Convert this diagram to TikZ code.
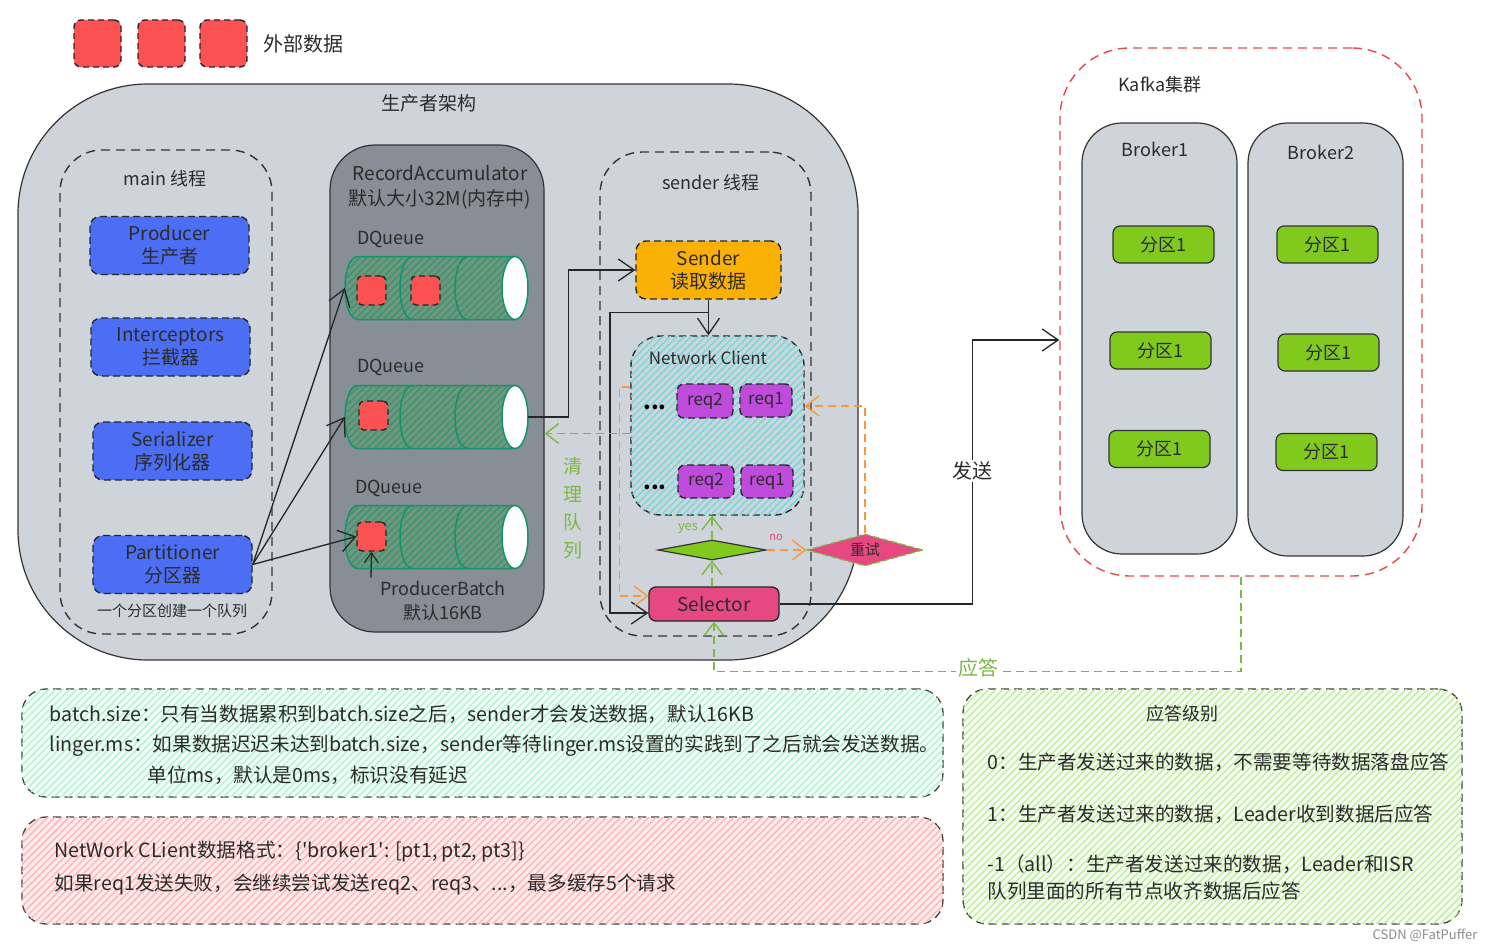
\documentclass[tikz,border=0pt]{standalone}
\usepackage{fontspec}
\setmainfont{Noto Sans CJK SC}[Ligatures=TeXOff]
\usetikzlibrary{arrows.meta,shapes.geometric,patterns.meta}

\definecolor{datared}{HTML}{FA5252}
\definecolor{compblue}{HTML}{4C6EF5}
\definecolor{outergray}{HTML}{CED4DA}
\definecolor{accgray}{HTML}{878E96}
\definecolor{cylfill}{HTML}{6F977E}
\definecolor{cylline}{HTML}{12936A}
\definecolor{sendorange}{HTML}{FAB005}
\definecolor{reqpurple}{HTML}{BE4BDB}
\definecolor{selpink}{HTML}{E64980}
\definecolor{partgreen}{HTML}{82C91E}
\definecolor{linkgreen}{HTML}{7DB843}
\definecolor{linkorange}{HTML}{F7993A}
\definecolor{kafkared}{HTML}{E5484D}
\definecolor{txt}{HTML}{2B2B2B}

\newcommand{\fsz}[2]{\fontsize{#1}{#2}\selectfont}

\begin{document}
\begin{tikzpicture}[x=1pt,y=-1pt,
  every node/.style={font=\fsz{18}{22}, text=txt},
  sq/.style={draw=black!85, dash pattern=on 6pt off 4pt, line width=1.4pt, fill=datared, rounded corners=7pt, minimum size=47pt, inner sep=0},
  batch/.style={sq, minimum size=29pt, rounded corners=5pt},
  frame/.style={draw=black!80, line width=1.2pt, rounded corners=#1, inner sep=0},
  thread/.style={draw=black!80, dash pattern=on 9pt off 6pt, line width=1.4pt, rounded corners=42pt, inner sep=0},
  comp/.style={draw=black!85, dash pattern=on 7pt off 4pt, line width=1.4pt, rounded corners=10pt, align=center, inner sep=0, font=\fsz{19}{23}},
  req/.style={comp, fill=reqpurple, rounded corners=7pt, font=\fsz{17}{20}},
  part/.style={draw=black!80, line width=1.2pt, fill=partgreen, rounded corners=7pt, minimum width=101pt, minimum height=37pt, inner sep=0},
  stripes/.style={postaction={pattern={Lines[angle=45,distance=5pt,line width=1.3pt]}, pattern color=#1}},
  note/.style={draw=black!75, dash pattern=on 8pt off 5pt, line width=1.3pt, rounded corners=24pt, inner sep=0},
  notetxt/.style={anchor=west, font=\fsz{19.6}{24}},
  arr/.style={draw=black!85, line width=1.3pt, -{Straight Barb[length=16pt,width=22pt,line width=1.3pt]}},
  garr/.style={draw=linkgreen, line width=1.4pt, dash pattern=on 8pt off 5pt, -{Straight Barb[length=13pt,width=20pt,line width=1.4pt]}},
  oarr/.style={draw=linkorange, line width=1.4pt, dash pattern=on 8pt off 5pt, -{Straight Barb[length=13pt,width=20pt,line width=1.4pt]}},
]
\useasboundingbox (0,0) rectangle (1497,950);

% legend
\foreach \n/\x in {d1/97.5,d2/161.5,d3/223.5}
  \node[sq] (\n) at (\x,43.5) {};
\node[font=\fsz{20}{24}] (extlbl) at (303,44) {外部数据};

% producer
\node[frame=130pt, fill=outergray, minimum width=840pt, minimum height=576pt] (prod) at (438,372) {};
\node[font=\fsz{19}{23}] (prodlbl) at (429,103) {生产者架构};

% main thread
\node[thread, minimum width=212pt, minimum height=484pt] (mainth) at (166,392) {};
\node (mainlbl) at (165,179) {main 线程};
\foreach \n/\x/\y/\t in {producer/169.5/245.5/{Producer\\生产者},
    interceptors/170.5/347/{Interceptors\\拦截器},
    serializer/172.5/451/{Serializer\\序列化器},
    partitioner/172.5/564.5/{Partitioner\\分区器}}
  \node[comp, fill=compblue, minimum width=159pt, minimum height=58pt] (\n) at (\x,\y) {\t};
\node[font=\fsz{15}{18}] (qnote) at (172,611) {一个分区创建一个队列};

% record accumulator
\node[frame=45pt, fill=accgray, minimum width=214pt, minimum height=487pt] (accum) at (437,388.5) {};
\node[align=center, font=\fsz{19}{25}] (acclbl) at (440,187) {RecordAccumulator\\默认大小32M(内存中)};
\foreach \i/\c/\lx/\ly in {1/288/391/239,2/417/391/367,3/537/389/488}{
  \node (dqlbl\i) at (\lx,\ly) {DQueue};
  \node[inner sep=0, minimum width=183pt, minimum height=63pt] (dq\i) at (436.5,\c) {};
  \path[draw=cylline, fill=cylfill, line width=1.5pt, stripes=cylline!60!cylfill]
    (515,\c-31.5) -- (358,\c-31.5) .. controls (340.7,\c-31.5) and (340.7,\c+31.5) .. (358,\c+31.5) -- (515,\c+31.5) -- cycle;
  \foreach \s in {413,468}
    \draw[cylline, line width=1.5pt] (\s,\c-31.5) .. controls (\s-17.3,\c-31.5) and (\s-17.3,\c+31.5) .. (\s,\c+31.5);
  \draw[cylline, line width=1.5pt, fill=white] (515,\c) ellipse [x radius=13, y radius=31.5];
}
\node[batch] (b1a) at (371.5,290.5) {};
\node[batch] (b1b) at (425.5,290.5) {};
\node[batch] (b2a) at (373.5,415.5) {};
\node[batch] (b3a) at (371.5,536.5) {};
\node[align=center, font=\fsz{18}{24}] (pb) at (443,601) {ProducerBatch\\默认16KB};

% sender thread
\node[thread, minimum width=211pt, minimum height=484pt] (sendth) at (705.5,394) {};
\node (sendlbl) at (711,183) {sender 线程};
\node[comp, fill=sendorange, minimum width=145pt, minimum height=58pt] (sender) at (708.5,270) {Sender\\读取数据};
\node[draw=black!85, dash pattern=on 7pt off 4pt, line width=1.4pt, rounded corners=30pt, fill=outergray, stripes=cyan!55!teal!60,
  minimum width=173pt, minimum height=179pt, inner sep=0] (nc) at (717.5,425.5) {};
\node[font=\fsz{17}{20}] (nclbl) at (708,358) {Network Client};
\node[req, minimum width=56pt, minimum height=34pt] (r1a) at (705,401) {req2};
\node[req, minimum width=52pt, minimum height=33pt] (r1b) at (766,400.5) {req1};
\node[req, minimum width=56pt, minimum height=33pt] (r2a) at (706,481.5) {req2};
\node[req, minimum width=52pt, minimum height=33pt] (r2b) at (767,481.5) {req1};
\node[font=\bfseries\fsz{22}{24}, text=black] (dots1) at (655,407) {...};
\node[font=\bfseries\fsz{22}{24}, text=black] (dots2) at (655,487) {...};
\node[diamond, draw=black!80, line width=1.2pt, fill=partgreen, minimum width=108pt, minimum height=20pt, inner sep=0, aspect=5] (dia) at (712,550) {};
\node[font=\fsz{13}{15}, text=linkgreen] (yeslbl) at (688,528) {yes};
\node[draw=black!85, line width=1.3pt, fill=selpink, rounded corners=7pt, minimum width=130pt, minimum height=34pt, inner sep=0, font=\fsz{19}{22}] (sel) at (714,604) {Selector};
\node[diamond, draw=linkgreen, dash pattern=on 6pt off 3pt, line width=1.3pt, fill=selpink, minimum width=116pt, minimum height=32pt, inner sep=0, aspect=3.6, font=\fsz{15}{18}] (retry) at (865,550) {重试};
\node[font=\fsz{11}{13}, text=selpink] (nolbl) at (776,538) {no};

% kafka
\node[draw=kafkared, dash pattern=on 9pt off 6pt, line width=1.4pt, rounded corners=70pt, minimum width=362pt, minimum height=528pt, inner sep=0] (kafka) at (1241,312) {};
\node (kafkalbl) at (1160,85) {Kafka集群};
\node[frame=40pt, fill=outergray, minimum width=155pt, minimum height=431pt] (broker1) at (1159.5,338.5) {};
\node[frame=40pt, fill=outergray, minimum width=155pt, minimum height=433pt] (broker2) at (1325.5,339.5) {};
\node (bk1lbl) at (1155,149) {Broker1};
\node (bk2lbl) at (1321,152) {Broker2};
\foreach \n/\x/\y in {p11/1163.5/244.5,p12/1160.5/350.5,p13/1159.5/449,
                      p21/1327.5/244.5,p22/1328.5/352.5,p23/1326.5/452}
  \node[part] (\n) at (\x,\y) {分区1};

% connectors
\foreach \t in {dq1.west,dq2.west,b3a.west}
  \draw[arr] (partitioner.east) -- (\t);
\draw[arr, -{Straight Barb[length=10pt,width=14pt,line width=1.2pt]}] ([xshift=-72pt]pb.north) -- (b3a.south);
\draw[arr] (dq2.east) -- ++(40,0) |- (sender.west);
\draw[arr] (sender.south) -- (sender.south |- nc.north);
\coordinate (brk) at ([yshift=-13pt]sender.south);
\draw[arr] (brk) -- ++(-98.5,0) |- ([yshift=-9pt]sel.west);
\draw[oarr] ([yshift=38.5pt]nc.west) -- ++(-11,0) |- ([yshift=8pt]sel.west);
\coordinate (clr) at ([yshift=-8pt]nc.west);
\draw[garr] (clr) -- (clr -| accum.east);
\draw[garr] (dia.north) -- (dia.north |- nc.south);
\draw[garr] (sel.north -| dia.south) -- (dia.south);
\draw[oarr] (dia.east) -- (retry.west);
\draw[oarr] (retry.north) |- ([yshift=19.5pt]nc.east);
\draw[arr] (sel.east) -- ++(193,0) |- ([yshift=-28pt]kafka.west);
\draw[garr] (kafka.south) -- ++(0,95) -| (sel.south);
\node[align=center, font=\fsz{19}{28}, text=linkgreen] (clrlbl) at (573,508.5) {清\\理\\队\\列};
\node[fill=white, inner sep=2pt, font=\fsz{20}{24}] (sendtxt) at (972,471) {发送};
\node[fill=white, inner sep=2pt, font=\fsz{20}{24}, text=linkgreen] (acktxt) at (978,668) {应答};

% notes
\node[note, fill=green!8!cyan!6, stripes=teal!35!green!30, minimum width=921pt, minimum height=108pt] (n1) at (482.5,743) {};
\node[notetxt] (n1a) at (46,714) {batch.size：只有当数据累积到batch.size之后，sender才会发送数据，默认16KB};
\node[notetxt] (n1b) at (46,746) {linger.ms：如果数据迟迟未达到batch.size，sender等待linger.ms设置的实践到了之后就会发送数据。};
\node[notetxt] (n1c) at (144,775) {单位ms，默认是0ms，标识没有延迟};
\node[note, fill=red!8, stripes=red!30, minimum width=921pt, minimum height=107pt] (n2) at (482.5,870.5) {};
\node[notetxt] (n2a) at (51,851) {NetWork CLient数据格式：\{'broker1': [pt1, pt2, pt3]\}};
\node[notetxt] (n2b) at (51,884) {如果req1发送失败，会继续尝试发送req2、req3、...，最多缓存5个请求};
\node[note, fill=green!6, stripes=partgreen!45, minimum width=499pt, minimum height=235pt] (n3) at (1212.5,806.5) {};
\node (n3t) at (1182,714) {应答级别};
\node[notetxt] (n3a) at (984,762) {0：生产者发送过来的数据，不需要等待数据落盘应答};
\node[notetxt] (n3b) at (984,814) {1：生产者发送过来的数据，Leader收到数据后应答};
\node[notetxt, font=\fsz{19.6}{27}, align=left] (n3c) at (984,877) {-1（all）：生产者发送过来的数据，Leader和ISR\\队列里面的所有节点收齐数据后应答};
\node[font=\fsz{13}{15}, text=black!45] (csdn) at (1425,935) {CSDN @FatPuffer};
\end{tikzpicture}
\end{document}
